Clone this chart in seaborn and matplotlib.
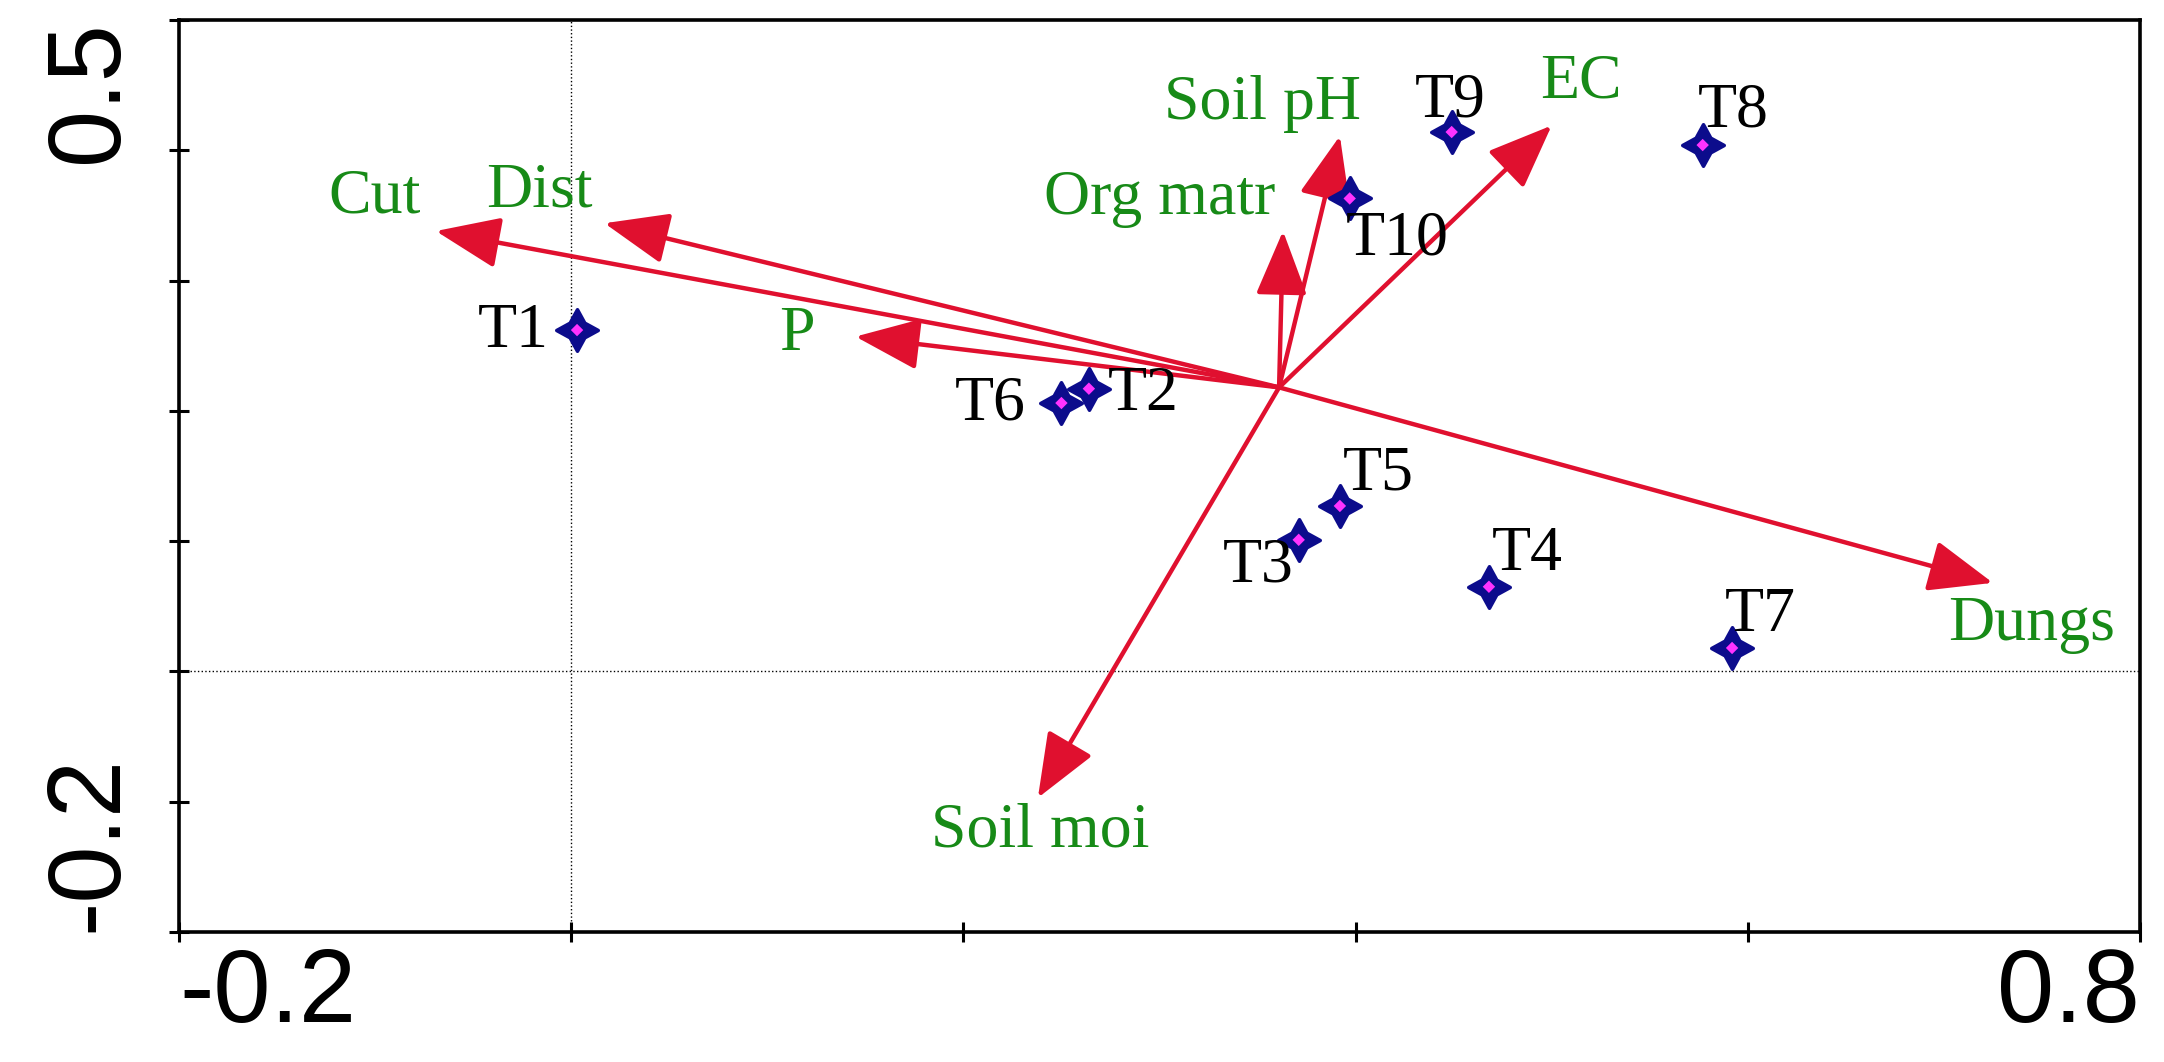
import numpy as np
import pandas as pd
import matplotlib
matplotlib.use("Agg")
import matplotlib.pyplot as plt
import seaborn as sns

# site scores (T1..T10)
sites = ['T1', 'T2', 'T3', 'T4', 'T5', 'T6', 'T7', 'T8', 'T9', 'T10']
site_x = [0.003, 0.264, 0.371, 0.468, 0.392, 0.250, 0.592, 0.577, 0.449, 0.397]
site_y = [0.262, 0.217, 0.101, 0.065, 0.127, 0.206, 0.018, 0.404, 0.414, 0.363]

# environmental variables (arrow tips), arrows start from a common point
env_vars = ['Cut', 'Dist', 'P', 'Org matr', 'Soil pH', 'EC', 'Dungs', 'Soil moi']
env_x = [-0.069, 0.017, 0.145, 0.363, 0.392, 0.500, 0.725, 0.238]
env_y = [0.338, 0.344, 0.257, 0.338, 0.411, 0.419, 0.068, -0.097]
origin_x = 0.361
origin_y = 0.218

# label offsets in points (dx, dy), layout only
site_offsets = [(-46, -12), (39, -15), (-29, -30), (28, 12), (28, 12),
                (-51, -12), (20, 12), (22, 13), (-1, 11), (34, -40)]
env_offsets = [(-44, 13), (-47, 12), (-42, -10), (-89, 12), (-56, 12),
               (21, 20), (28, -41), (2, -35)]

df_sites = pd.DataFrame({'site': sites, 'x': site_x, 'y': site_y})

red = '#e0102f'
green = '#178a17'
navy = '#0c0c8c'

sns.set_theme(style="white")
plt.rcParams['font.family'] = ['Liberation Sans', 'DejaVu Sans']

fig = plt.figure(figsize=(21.64, 10.62), dpi=100)
ax = fig.add_axes([0.0827, 0.1224, 0.9062, 0.8588])

# zero reference lines
ax.axhline(0, color='black', lw=1.0, ls=':', zorder=1)
ax.axvline(0, color='black', lw=1.0, ls=':', zorder=1)

# environmental arrows
for name, tx, ty, (dx, dy) in zip(env_vars, env_x, env_y, env_offsets):
    ax.annotate('', xy=(tx, ty), xytext=(origin_x, origin_y),
                arrowprops=dict(arrowstyle='-|>,head_length=2.0,head_width=0.8',
                                color=red, lw=3.2, shrinkA=0, shrinkB=0,
                                mutation_scale=20), zorder=3)
    ax.annotate(name, xy=(tx, ty), xytext=(dx, dy), textcoords='offset points',
                ha='center', va='baseline', color=green, fontsize=46,
                family=['Liberation Serif', 'DejaVu Serif'], zorder=5)

# site points
sns.scatterplot(data=df_sites, x='x', y='y', marker=(4, 1, 0), s=30 ** 2,
                color=navy, edgecolor=navy, linewidth=2.5, ax=ax, zorder=4,
                legend=False)
sns.scatterplot(data=df_sites, x='x', y='y', marker='D', s=40,
                color='#ff33ff', edgecolor='none', ax=ax, zorder=5, legend=False)

for name, px, py, (dx, dy) in zip(sites, site_x, site_y, site_offsets):
    ax.annotate(name, xy=(px, py), xytext=(dx, dy), textcoords='offset points',
                ha='center', va='baseline', color='black', fontsize=46,
                family=['Liberation Serif', 'DejaVu Serif'], zorder=5)

ax.set_xlim(-0.2, 0.8)
ax.set_ylim(-0.2, 0.5)

xt = np.round(np.arange(-0.2, 0.81, 0.2), 1)
yt = np.round(np.arange(-0.2, 0.51, 0.1), 1)
ax.set_xticks(xt, labels=['-0.2', '', '', '', '', '0.8'])
ax.set_yticks(yt, labels=['-0.2', '', '', '', '', '', '', '0.5'])
ax.tick_params(axis='both', direction='inout', length=14, width=2.2,
               color='black', labelsize=74, labelcolor='black',
               bottom=True, left=True, top=False, right=False)
ax.tick_params(axis='x', pad=4)
ax.tick_params(axis='y', pad=22)

xl = ax.get_xticklabels()
xl[0].set_ha('left')
xl[-1].set_ha('right')
yl = ax.get_yticklabels()
for lab in yl:
    lab.set_rotation(90)
yl[0].set_va('bottom')
yl[-1].set_va('top')

for sp in ax.spines.values():
    sp.set_color('black')
    sp.set_linewidth(2.6)

ax.set_xlabel('')
ax.set_ylabel('')

fig.savefig('out.png', dpi=100, facecolor='white')
